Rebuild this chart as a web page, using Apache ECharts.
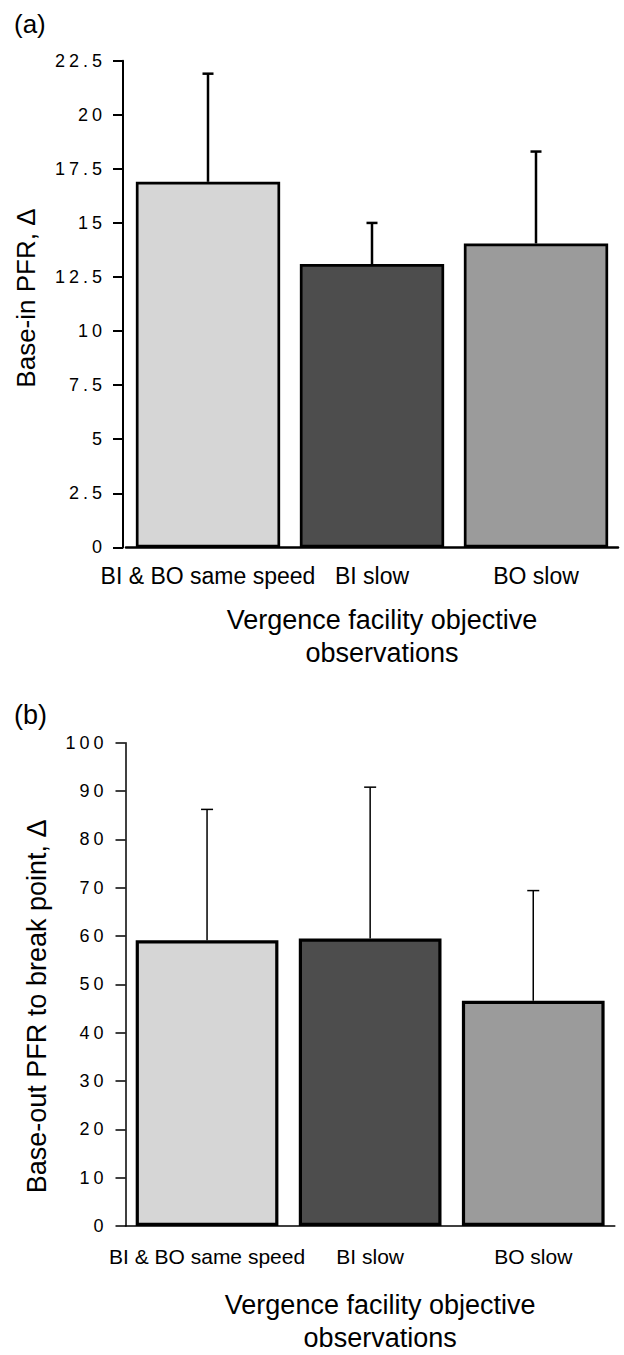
<!DOCTYPE html>
<html><head><meta charset="utf-8">
<script src="https://cdn.jsdelivr.net/npm/echarts@6/dist/echarts.min.js"></script>
<style>
html,body{margin:0;padding:0;background:#fff}
#c{width:624px;height:1355px}
/* tracked (letter-spaced) tick labels, as in the scanned figure */
#c svg text[style*="18px"], #c svg text[font-size="18"], #c svg text[font-size="18px"]{letter-spacing:4px}
</style>
</head><body><div id="c"></div>
<script>
// ---- data ----
const categories = ['BI & BO same speed', 'BI slow', 'BO slow'];
const baseInMean = [16.9, 13.1, 14.05];
const baseInUpperSD = [21.9, 15.0, 18.3];
const baseOutMean = [59.1, 59.5, 46.6];
const baseOutUpperSD = [86.2, 90.8, 69.4];
const yTicksA = { min: 0, max: 22.5, step: 2.5 };
const yTicksB = { min: 0, max: 100, step: 10 };

// ---- styles ----
const barColors = ['#d6d6d6', '#4d4d4d', '#9b9b9b'];
const FONT = '"Liberation Sans", Arial, Helvetica, sans-serif';
const TICK_SIZE = 18;

function errRender(lw, cap) {
  return function (params, api) {
    const x = api.value(0);
    const top = api.coord([x, api.value(2)]);
    const base = api.coord([x, api.value(1)]);
    return {
      type: 'group',
      children: [
        { type: 'line', shape: { x1: top[0], y1: base[1], x2: top[0], y2: top[1] }, style: { stroke: '#000', lineWidth: lw } },
        { type: 'line', shape: { x1: top[0] - cap / 2, y1: top[1], x2: top[0] + cap / 2, y2: top[1] }, style: { stroke: '#000', lineWidth: lw } }
      ]
    };
  };
}

function barData(vals) {
  return vals.map((v, i) => ({ value: v, itemStyle: { color: barColors[i] } }));
}
function errData(mean, up) {
  return categories.map((c, i) => [i, mean[i], up[i]]);
}

const chart = echarts.init(document.getElementById('c'), null, { renderer: 'svg' });
const xName = 'Vergence facility objective\nobservations';

chart.setOption({
  animation: false,
  backgroundColor: '#fff',
  graphic: [
    { type: 'text', left: 14, top: 11, style: { text: '(a)', font: '26px "Liberation Sans", Arial, sans-serif', fill: '#000' } },
    { type: 'text', left: 14, top: 701, style: { text: '(b)', font: '27px "Liberation Sans", Arial, sans-serif', fill: '#000' } }
  ],
  grid: [
    { left: 126, right: 6, top: 60.7, height: 486.7 },
    { left: 125.5, right: 9.2, top: 742.7, height: 489 }
  ],
  xAxis: [
    {
      type: 'category', gridIndex: 0, data: categories, boundaryGap: true,
      axisLine: { lineStyle: { color: '#000', width: 2.5 } },
      axisTick: { alignWithLabel: true, length: 6, lineStyle: { color: '#000', width: 2 } },
      axisLabel: { interval: 0, fontSize: 23, fontFamily: FONT, color: '#000', margin: 17 },
      name: xName, nameLocation: 'middle', nameGap: 56,
      nameTextStyle: { fontSize: 27, lineHeight: 33, fontFamily: FONT, color: '#000', padding: [0, 0, 0, 20] }
    },
    {
      type: 'category', gridIndex: 1, data: categories, boundaryGap: true,
      axisLine: { lineStyle: { color: '#000', width: 1.5 } },
      axisTick: { alignWithLabel: true, length: 5, lineStyle: { color: '#000', width: 1.5 } },
      axisLabel: { interval: 0, fontSize: 21, fontFamily: FONT, color: '#000', margin: 20 },
      name: xName, nameLocation: 'middle', nameGap: 62,
      nameTextStyle: { fontSize: 27, lineHeight: 33, fontFamily: FONT, color: '#000', padding: [0, 0, 0, 20] }
    }
  ],
  yAxis: [
    {
      type: 'value', gridIndex: 0, min: yTicksA.min, max: yTicksA.max, interval: yTicksA.step, offset: 3,
      axisLine: { show: true, lineStyle: { color: '#000', width: 2 } },
      axisTick: { show: true, length: 10, lineStyle: { color: '#000', width: 2 } },
      splitLine: { show: false },
      axisLabel: { margin: 17, fontSize: TICK_SIZE, fontFamily: FONT, color: '#000' },
      name: 'Base-in PFR, Δ', nameLocation: 'middle', nameGap: 84,
      nameTextStyle: { fontSize: 26, fontFamily: FONT, color: '#000', padding: [0, 0, 0, 12] }
    },
    {
      type: 'value', gridIndex: 1, min: yTicksB.min, max: yTicksB.max, interval: yTicksB.step,
      axisLine: { show: true, lineStyle: { color: '#000', width: 1.5 } },
      axisTick: { show: true, length: 10, lineStyle: { color: '#000', width: 1.5 } },
      splitLine: { show: false },
      axisLabel: { margin: 18, fontSize: TICK_SIZE, fontFamily: FONT, color: '#000' },
      name: 'Base-out PFR to break point, Δ', nameLocation: 'middle', nameGap: 75,
      nameTextStyle: { fontSize: 27, fontFamily: FONT, color: '#000', padding: [0, 44, 0, 0] }
    }
  ],
  series: [
    {
      type: 'bar', xAxisIndex: 0, yAxisIndex: 0, data: barData(baseInMean), barCategoryGap: '12%',
      itemStyle: { borderColor: '#000', borderWidth: 2.7 }
    },
    {
      type: 'custom', xAxisIndex: 0, yAxisIndex: 0, renderItem: errRender(2.5, 11),
      data: errData(baseInMean, baseInUpperSD), encode: { x: 0, y: [1, 2] }, z: 3
    },
    {
      type: 'bar', xAxisIndex: 1, yAxisIndex: 1, data: barData(baseOutMean), barCategoryGap: '12.5%',
      itemStyle: { borderColor: '#000', borderWidth: 3.2 }
    },
    {
      type: 'custom', xAxisIndex: 1, yAxisIndex: 1, renderItem: errRender(1.5, 12),
      data: errData(baseOutMean, baseOutUpperSD), encode: { x: 0, y: [1, 2] }, z: 3
    }
  ]
});
</script>
</body></html>
